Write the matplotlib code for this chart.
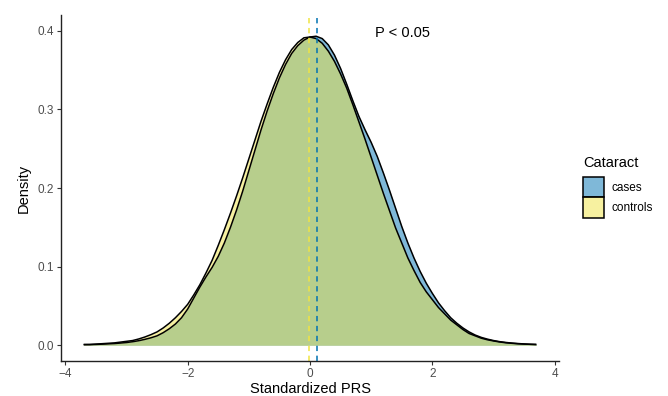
import matplotlib
matplotlib.use("Agg")
import matplotlib.pyplot as plt
import numpy as np
from matplotlib.patches import Patch

plt.rcParams["font.family"] = ["Liberation Sans", "DejaVu Sans"]

prs = np.round(np.linspace(-3.7, 3.7, 75), 1)

controls = [
    0.001, 0.001, 0.0015, 0.002, 0.0025, 0.003, 0.004, 0.005, 0.006, 0.008,
    0.0105, 0.0135, 0.017, 0.022, 0.028, 0.035, 0.043, 0.052, 0.064, 0.077,
    0.092, 0.108, 0.127, 0.147, 0.168, 0.190, 0.213, 0.237, 0.261, 0.285,
    0.307, 0.328, 0.347, 0.363, 0.376, 0.385, 0.391, 0.392, 0.390, 0.384,
    0.374, 0.361, 0.345, 0.327, 0.306, 0.284, 0.262, 0.239, 0.216, 0.193,
    0.171, 0.149, 0.130, 0.111, 0.095, 0.080, 0.068, 0.058, 0.048, 0.040,
    0.032, 0.026, 0.020, 0.015, 0.012, 0.009, 0.007, 0.0055, 0.0042, 0.0032,
    0.0025, 0.0019, 0.0015, 0.0012, 0.001,
]
cases = [
    0.0008, 0.0009, 0.0011, 0.0014, 0.0018, 0.0022, 0.0028, 0.0035, 0.0045, 0.0058,
    0.0075, 0.0095, 0.012, 0.016, 0.021, 0.027, 0.035, 0.046, 0.060, 0.074,
    0.087, 0.099, 0.113, 0.130, 0.150, 0.172, 0.196, 0.222, 0.248, 0.274,
    0.298, 0.320, 0.340, 0.357, 0.371, 0.381, 0.388, 0.392, 0.393, 0.390,
    0.382, 0.369, 0.352, 0.332, 0.311, 0.291, 0.274, 0.258, 0.240, 0.219,
    0.197, 0.174, 0.151, 0.130, 0.111, 0.094, 0.079, 0.066, 0.054, 0.044,
    0.035, 0.028, 0.022, 0.017, 0.013, 0.010, 0.0078, 0.006, 0.0046, 0.0036,
    0.0028, 0.0022, 0.0017, 0.0013, 0.001,
]

group_means = {"cases": 0.11, "controls": -0.01}
group_colors = {"cases": "#0072B2", "controls": "#F0E442"}
p_label = "P < 0.05"

fig = plt.figure(figsize=(6.68, 3.96), dpi=100)
ax = fig.add_axes([61 / 668, 35 / 396, 498 / 668, 346 / 396])

for name, dens in [("cases", cases), ("controls", controls)]:
    ax.fill_between(prs, 0, dens, color=group_colors[name], alpha=0.5, lw=0)
    ax.plot(prs, dens, color="black", lw=1.1, solid_capstyle="butt")

for name in ["controls", "cases"]:
    ax.axvline(group_means[name], color=group_colors[name], lw=1.1,
               linestyle=(0, (3.5, 3)))

ax.text(1.52, 0.397, p_label, ha="center", va="center", fontsize=10.5, color="black")

ax.set_xlim(-4.07, 4.07)
ax.set_ylim(-0.02, 0.42)
ax.set_xticks([-4, -2, 0, 2, 4])
ax.set_yticks([0.0, 0.1, 0.2, 0.3, 0.4])
ax.set_yticklabels(["0.0", "0.1", "0.2", "0.3", "0.4"])
ax.tick_params(length=3, width=0.8, color="#333333", labelcolor="#4D4D4D",
               labelsize=8.5, pad=2)
for side in ["top", "right"]:
    ax.spines[side].set_visible(False)
for side in ["left", "bottom"]:
    ax.spines[side].set_linewidth(1.0)
    ax.spines[side].set_color("#222222")

ax.set_xlabel("Standardized PRS", fontsize=10.5)
ax.set_ylabel("Density", fontsize=10.5)
ax.xaxis.set_label_coords(0.5, -0.062)
ax.yaxis.set_label_coords(-0.06, 0.5)

handles = [Patch(facecolor=group_colors[n], alpha=0.5, edgecolor="black", lw=1.1)
           for n in ["cases", "controls"]]
leg = fig.legend(handles, ["cases", "controls"], title="Cataract",
                 loc="upper left", bbox_to_anchor=(575 / 668, 1 - 148 / 396),
                 frameon=False, fontsize=8.5, title_fontsize=10.5,
                 handlelength=1.75, handleheight=2.25, labelspacing=0,
                 handletextpad=0.6, borderpad=0.2, alignment="left")
leg._legend_box.sep = 5  # gap between title and keys, like ggplot
# keep the legend key outlines opaque while the fill stays translucent
for p in leg.get_patches():
    fc = p.get_facecolor()
    p.set_alpha(None)
    p.set_facecolor((fc[0], fc[1], fc[2], 0.5))
    p.set_edgecolor("black")

fig.savefig("out.png", dpi=100)
